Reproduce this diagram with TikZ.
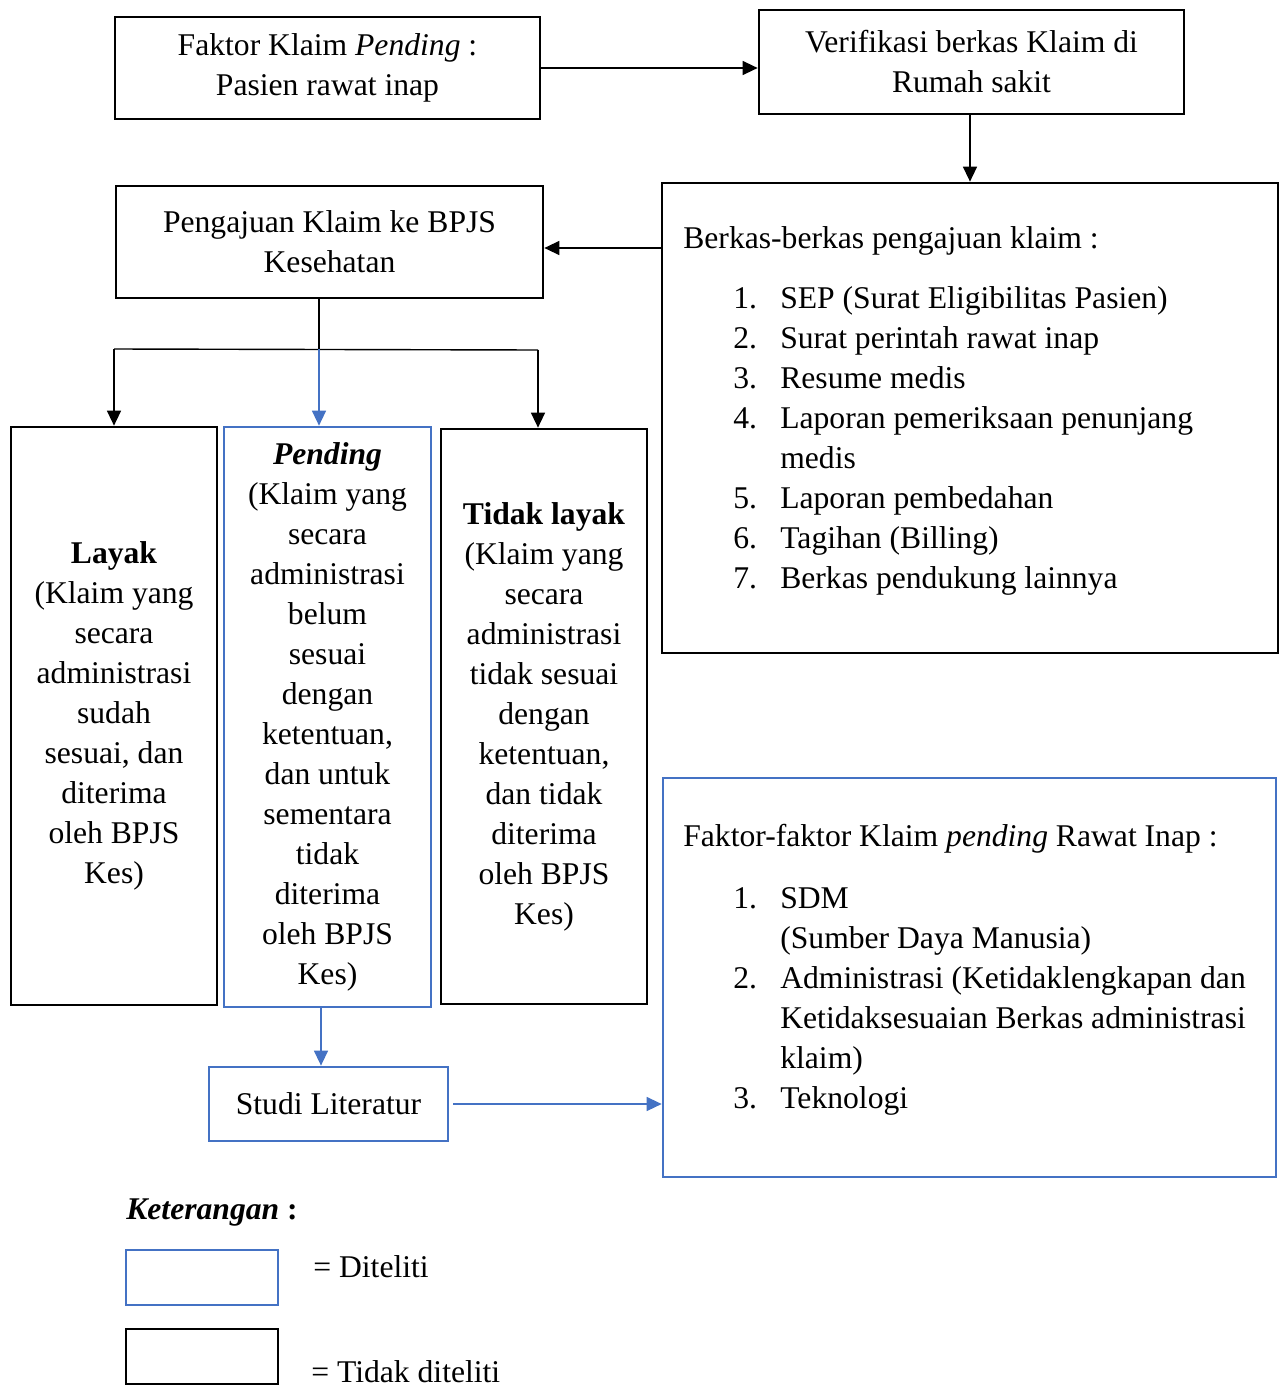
\documentclass[tikz,border=0pt]{standalone}
\usepackage{fontspec}
\setmainfont{Liberation Serif}
\usetikzlibrary{arrows.meta}
\definecolor{diteliti}{HTML}{4472C4}
\newcommand{\nomor}[1]{\hspace*{1cm}\makebox[0.94cm][l]{#1}}

\begin{document}
\begin{tikzpicture}[x=0.02cm, y=-0.02cm,
  every node/.style={font=\fontsize{18}{22.76}\selectfont, inner sep=0pt},
  kotak/.style={draw=black, line width=1.6pt, align=center},
  kotakbiru/.style={kotak, draw=diteliti},
  garis/.style={line width=0.8pt},
  panah/.style={garis, -{Triangle[length=0.3cm, width=0.28cm]}}]
\useasboundingbox (0,0) rectangle (1282,1389);
% kotak atas
\node[kotak, minimum width=8.5cm, minimum height=2.04cm] (faktor) at (327.5,68) {Faktor Klaim \textit{Pending} :\\ Pasien rawat inap};
\node[kotak, minimum width=8.5cm, minimum height=2.08cm] (verif) at (971.5,62) {Verifikasi berkas Klaim di\\ Rumah sakit};
\node[kotak, minimum width=12.32cm, minimum height=9.4cm] (berkas) at (970,418) {};
\node[anchor=north west, align=left] (isiberkas) at (683,226) {Berkas-berkas pengajuan klaim :\\[0.4cm]
\nomor{1.}SEP (Surat Eligibilitas Pasien)\\
\nomor{2.}Surat perintah rawat inap\\
\nomor{3.}Resume medis\\
\nomor{4.}Laporan pemeriksaan penunjang\\
\nomor{}medis\\
\nomor{5.}Laporan pembedahan\\
\nomor{6.}Tagihan (Billing)\\
\nomor{7.}Berkas pendukung lainnya};
\node[kotak, minimum width=8.54cm, minimum height=2.24cm] (pengajuan) at (329.5,242) {Pengajuan Klaim ke BPJS\\ Kesehatan};
% hasil klaim
\node[kotak, minimum width=4.12cm, minimum height=11.56cm] (layak) at (114,716) {\textbf{Layak}\\ (Klaim yang\\ secara\\ administrasi\\ sudah\\ sesuai, dan\\ diterima\\ oleh BPJS\\ Kes)};
\node[kotakbiru, minimum width=4.14cm, minimum height=11.6cm] (pending) at (327.5,717) {\textbf{\textit{Pending}}\\ (Klaim yang\\ secara\\ administrasi\\ belum\\ sesuai\\ dengan\\ ketentuan,\\ dan untuk\\ sementara\\ tidak\\ diterima\\ oleh BPJS\\ Kes)};
\node[kotak, minimum width=4.12cm, minimum height=11.5cm] (tidak) at (544,716.5) {\textbf{Tidak layak}\\ (Klaim yang\\ secara\\ administrasi\\ tidak sesuai\\ dengan\\ ketentuan,\\ dan tidak\\ diterima\\ oleh BPJS\\ Kes)};
\node[kotakbiru, minimum width=4.78cm, minimum height=1.48cm] (studi) at (328.5,1104) {Studi Literatur};
\node[kotakbiru, minimum width=12.26cm, minimum height=7.98cm] (faktorpending) at (969.5,977.5) {};
\node[anchor=north west, align=left] (isifaktor) at (683,824) {Faktor-faktor Klaim \textit{pending} Rawat Inap :\\[0.44cm]
\nomor{1.}SDM\\
\nomor{}(Sumber Daya Manusia)\\
\nomor{2.}Administrasi (Ketidaklengkapan dan\\
\nomor{}Ketidaksesuaian Berkas administrasi\\
\nomor{}klaim)\\
\nomor{3.}Teknologi};
% panah
\coordinate (cabang) at (319,349);
\coordinate (kiri) at (114,349);
\coordinate (kanan) at (538,350);
\draw[panah] (faktor.east) -- (faktor.east -| verif.west);
\draw[panah] (verif.south -| berkas.north) -- (berkas.north);
\draw[panah] (berkas.west |- 0,248) -- (pengajuan.east |- 0,248);
\draw[garis] (pengajuan.south -| cabang) -- (cabang);
\draw[garis] (kiri) -- (kanan);
\draw[panah] (kiri) -- (kiri |- layak.north);
\draw[panah] (kanan) -- (kanan |- tidak.north);
\draw[panah, diteliti] (cabang) -- (cabang |- pending.north);
\draw[panah, diteliti] (321,1007) -- (studi.north -| 321,0);
\draw[panah, diteliti, shorten <=0.08cm] (studi.east) -- (studi.east -| faktorpending.west);
% keterangan
\node[anchor=west] (ket) at (126,1212) {\textbf{\textit{Keterangan}} \textbf{:}};
\node[kotakbiru, minimum width=3.04cm, minimum height=1.1cm] (lgbiru) at (202,1277.5) {};
\node[anchor=west] (lgteks1) at (313,1267) {= Diteliti};
\node[kotak, minimum width=3.04cm, minimum height=1.1cm] (lghitam) at (202,1356.5) {};
\node[anchor=west] (lgteks2) at (311,1372) {= Tidak diteliti};
\end{tikzpicture}
\end{document}
